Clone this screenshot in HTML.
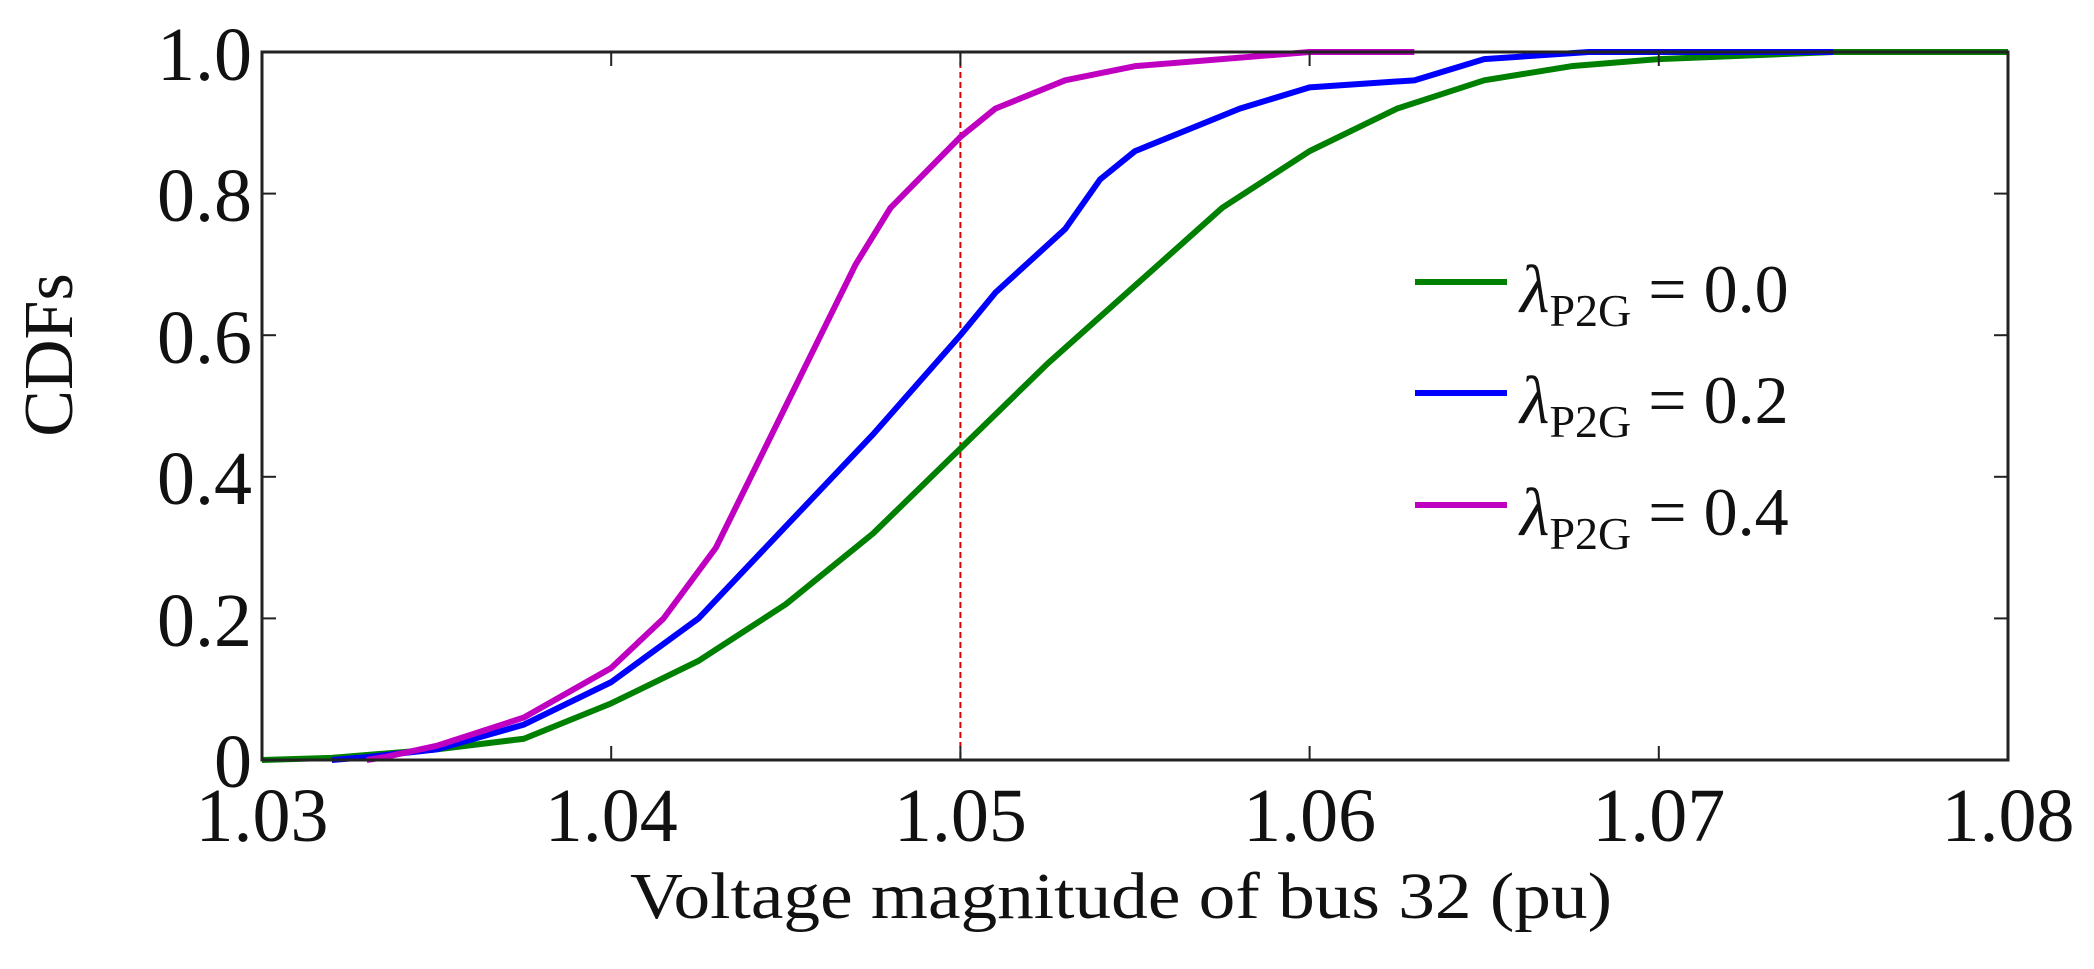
<!DOCTYPE html>
<html><head><meta charset="utf-8"><style>
html,body{margin:0;padding:0;background:#fff;}
svg{display:block;}
text{font-family:"Liberation Serif",serif;fill:#111;}
</style></head><body>
<svg width="2094" height="969" viewBox="0 0 2094 969" xmlns="http://www.w3.org/2000/svg">
<rect width="2094" height="969" fill="#fff"/>
<!-- red dashed line at 1.05 -->
<line x1="960.4" y1="52" x2="960.4" y2="760" stroke="#e00000" stroke-width="2" stroke-dasharray="6,4"/>
<!-- curves -->
<g transform="translate(262,760) scale(34.92,-708)" fill="none" stroke-linejoin="round">
<polyline vector-effect="non-scaling-stroke" stroke="#008000" stroke-width="6" points="0,0 2,0.003 5,0.015 7.5,0.03 10,0.08 12.5,0.14 15,0.22 17.5,0.32 20,0.44 22.5,0.56 25,0.67 27.5,0.78 30,0.86 32.5,0.92 35,0.96 37.5,0.98 40,0.99 45,1.0 50,1.0"/>
<polyline vector-effect="non-scaling-stroke" stroke="#0000ff" stroke-width="6" points="2,0 3,0.004 5,0.015 7.5,0.05 10,0.11 12.5,0.2 15,0.33 17.5,0.46 20,0.60 21,0.66 23,0.75 24,0.82 25,0.86 28,0.92 30,0.95 33,0.96 35,0.99 38,1.0 45,1"/>
<polyline vector-effect="non-scaling-stroke" stroke="#c000c0" stroke-width="6" points="3,0 3.5,0.004 5,0.02 7.5,0.06 10,0.13 11.5,0.2 13,0.3 14,0.4 15,0.5 16,0.6 17,0.7 18,0.78 19,0.83 20,0.88 21,0.92 23,0.96 25,0.98 30,1.0 33,1"/>
</g>
<!-- axes box -->
<rect x="262" y="52" width="1746" height="708" fill="none" stroke="#222" stroke-width="3"/>
<g stroke="#222" stroke-width="2">
<line x1="262" y1="193.6" x2="276" y2="193.6"/><line x1="262" y1="335.2" x2="276" y2="335.2"/><line x1="262" y1="476.8" x2="276" y2="476.8"/><line x1="262" y1="618.4" x2="276" y2="618.4"/>
<line x1="2008" y1="193.6" x2="1994" y2="193.6"/><line x1="2008" y1="335.2" x2="1994" y2="335.2"/><line x1="2008" y1="476.8" x2="1994" y2="476.8"/><line x1="2008" y1="618.4" x2="1994" y2="618.4"/>
<line x1="611.2" y1="760" x2="611.2" y2="746"/><line x1="960.4" y1="760" x2="960.4" y2="746"/><line x1="1309.6" y1="760" x2="1309.6" y2="746"/><line x1="1658.8" y1="760" x2="1658.8" y2="746"/>
<line x1="611.2" y1="52" x2="611.2" y2="66"/><line x1="960.4" y1="52" x2="960.4" y2="66"/><line x1="1309.6" y1="52" x2="1309.6" y2="66"/><line x1="1658.8" y1="52" x2="1658.8" y2="66"/>
</g>
<!-- y tick labels -->
<g font-size="76" text-anchor="end">
<text x="252" y="80">1.0</text>
<text x="252" y="221">0.8</text>
<text x="252" y="363">0.6</text>
<text x="252" y="504">0.4</text>
<text x="252" y="646">0.2</text>
<text x="252" y="787">0</text>
</g>
<!-- x tick labels -->
<g font-size="76" text-anchor="middle">
<text x="262" y="841">1.03</text>
<text x="611.2" y="841">1.04</text>
<text x="960.4" y="841">1.05</text>
<text x="1309.6" y="841">1.06</text>
<text x="1658.8" y="841">1.07</text>
<text x="2008" y="841">1.08</text>
</g>
<text x="630" y="918" font-size="66" textLength="982" lengthAdjust="spacingAndGlyphs">Voltage magnitude of bus 32 (pu)</text>
<text transform="translate(72,355) rotate(-90)" font-size="70" text-anchor="middle">CDFs</text>
<!-- legend -->
<g stroke-width="6">
<line x1="1415" y1="282" x2="1507" y2="282" stroke="#008000"/>
<line x1="1415" y1="393" x2="1507" y2="393" stroke="#0000ff"/>
<line x1="1415" y1="505" x2="1507" y2="505" stroke="#c000c0"/>
</g>
<g font-size="68">
<text x="1520" y="312"><tspan font-style="italic">λ</tspan><tspan font-size="46" dy="14">P2G</tspan><tspan dy="-14"> = 0.0</tspan></text>
<text x="1520" y="423"><tspan font-style="italic">λ</tspan><tspan font-size="46" dy="14">P2G</tspan><tspan dy="-14"> = 0.2</tspan></text>
<text x="1520" y="535"><tspan font-style="italic">λ</tspan><tspan font-size="46" dy="14">P2G</tspan><tspan dy="-14"> = 0.4</tspan></text>
</g>
</svg>
</body></html>
